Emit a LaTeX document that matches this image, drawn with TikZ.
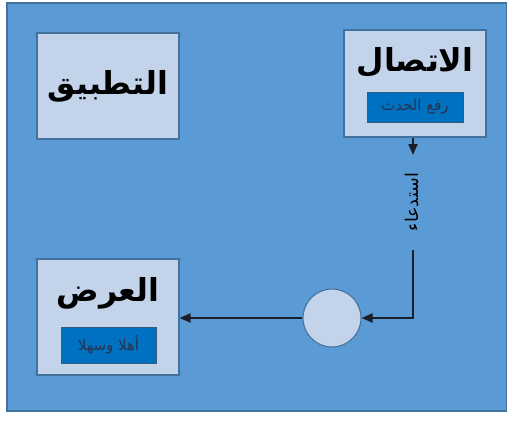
\documentclass[tikz,border=0pt]{standalone}
\usepackage{fontspec}
\newfontfamily\arabicfont[Script=Arabic]{DejaVu Sans}
\TeXXeTstate=1
\usetikzlibrary{positioning,arrows.meta,calc}
\definecolor{sea}{HTML}{5B9BD5}
\definecolor{edge}{HTML}{41719C}
\definecolor{pale}{HTML}{C3D3EA}
\definecolor{cobalt}{HTML}{0070C0}
\definecolor{ink}{HTML}{1A1F2B}
\definecolor{dim}{HTML}{26344F}
\newcommand{\ara}[1]{{\arabicfont\beginR #1\endR}}
\tikzset{
  panel/.style ={draw=edge, line width=.6pt, fill=pale, minimum width=2.84cm, inner sep=0pt},
  chip/.style  ={draw=edge!80!black, line width=.5pt, fill=cobalt, minimum width=1.92cm, minimum height=.6cm, inner sep=0pt, text=dim, font=\fontsize{8.5}{10}\selectfont},
  ttl/.style   ={font=\fontsize{18}{20}\selectfont\bfseries, text=black},
  hubc/.style  ={draw=edge, line width=.6pt, fill=pale, circle, minimum size=1.16cm, inner sep=0pt},
  ln/.style    ={draw=ink, line width=1.1pt, -{Triangle[length=2.2mm,width=1.8mm]}},
}
\begin{document}
\begin{tikzpicture}[x=0.02cm,y=-0.02cm]
  \useasboundingbox[fill=white] (0,0) rectangle (507,423);
  \draw[draw=edge, fill=sea, line width=.6pt] (7,3) rectangle (507,411);

  % boxes
  \node[panel, ttl, minimum height=2.12cm] (app) at (108,86) {\ara{التطبيق}};
  \node[panel, minimum height=2.14cm] (conn) at (415,83.5) {};
  \node[ttl] (connT) at (415,62) {\ara{الاتصال}};
  \node[chip] (raise) at (415,107) {\ara{رفع الحدث}};
  \node[panel, minimum height=2.32cm] (view) at (108,317) {};
  \node[ttl] (viewT) at (108,293) {\ara{العرض}};
  \node[chip, minimum width=1.9cm, minimum height=.72cm] (hello) at (108.5,345) {\ara{أهلا وسهلا}};
  \node[hubc] (hub) at (332,318) {};

  % call
  \coordinate (tip) at (413,155);
  \coordinate (tail) at (413,250);
  \node[rotate=90, font=\fontsize{10}{12}\selectfont] (call) at (412,202) {\ara{استدعاء}};
  \draw[ln] (conn.south -| tip) -- (tip);
  \draw[ln] (tail) |- (hub.east);
  \draw[ln] (hub.west) -- (view.east |- hub.west);
\end{tikzpicture}
\end{document}
